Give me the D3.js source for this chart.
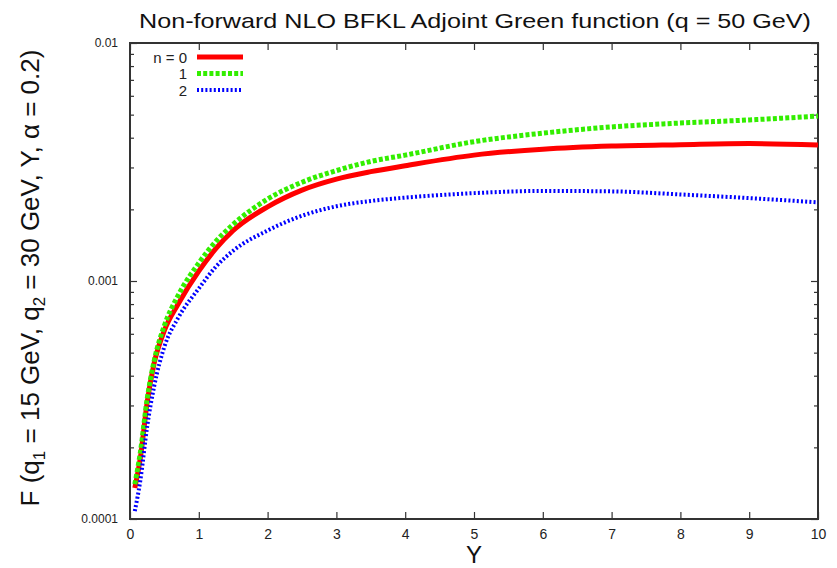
<!DOCTYPE html>
<html>
<head>
<meta charset="utf-8">
<script src="https://cdn.jsdelivr.net/npm/d3@7"></script>
<style>
  body { margin: 0; background: #fff; }
  text { font-family: "Liberation Sans", Arial, sans-serif; }
</style>
</head>
<body>
<script>
// rapidity values Y
var rapidity = [0.07, 0.15, 0.25, 0.35, 0.5, 0.7, 1.0, 1.25, 1.5, 2, 2.5, 3, 3.5, 4, 5, 6, 7, 8, 9, 10];
// conformal spin n = 0, 1, 2
var greenN0 = [0.000135, 0.00018, 0.00031, 0.00045, 0.00062, 0.00080, 0.00110, 0.00137, 0.00163, 0.00205,
               0.00241, 0.00268, 0.00288, 0.00305, 0.00338, 0.00358, 0.00369, 0.00374, 0.00378, 0.00373];
var greenN1 = [0.00014, 0.00019, 0.00032, 0.00046, 0.00065, 0.00087, 0.00119, 0.00147, 0.00173, 0.00221,
               0.00260, 0.00291, 0.00318, 0.00338, 0.00385, 0.00418, 0.00444, 0.00461, 0.00475, 0.00493];
var greenN2 = [0.000108, 0.000145, 0.000245, 0.00036, 0.00053, 0.00070, 0.00093, 0.00115, 0.00134, 0.00163,
               0.00188, 0.00206, 0.00217, 0.00224, 0.00234, 0.00239, 0.00238, 0.00231, 0.00223, 0.00214];
var seriesNames = ["n = 0", "1", "2"];
var xTicks = [0, 1, 2, 3, 4, 5, 6, 7, 8, 9, 10];
var yTicks = [0.0001, 0.001, 0.01];
var yTickLabels = ["0.0001", "0.001", "0.01"];

window.onload = function(){
    var w = 837, h = 568;
    var left = 130, right = 818, top = 43, bottom = 519;

    var svg = d3.select("body").append("svg")
      .attr("width", w)
      .attr("height", h);

    var x = d3.scaleLinear().domain([0, 10]).range([left, right]);
    var y = d3.scaleLog().domain([0.0001, 0.01]).range([bottom, top]);

    // minor log ticks
    var minor = [];
    [0.0001, 0.001].forEach(function(d){
        for (var k = 2; k <= 9; k++) minor.push(d * k);
    });

    // axes with inward ticks
    var axisBottom = d3.axisBottom(x).tickValues(xTicks).tickSizeInner(-7).tickSizeOuter(0).tickPadding(10);
    var axisTop = d3.axisTop(x).tickValues(xTicks).tickSizeInner(-7).tickSizeOuter(0).tickFormat("");
    var axisLeft = d3.axisLeft(y).tickValues(yTicks).tickSizeInner(-7).tickSizeOuter(0).tickPadding(12)
      .tickFormat(function(d, i){ return yTickLabels[i]; });
    var axisRight = d3.axisRight(y).tickValues(yTicks).tickSizeInner(-7).tickSizeOuter(0).tickFormat("");
    var minorLeft = d3.axisLeft(y).tickValues(minor).tickSizeInner(-4).tickSizeOuter(0).tickFormat("");
    var minorRight = d3.axisRight(y).tickValues(minor).tickSizeInner(-4).tickSizeOuter(0).tickFormat("");

    var gb = svg.append("g").attr("transform", "translate(0," + bottom + ")").call(axisBottom);
    svg.append("g").attr("transform", "translate(0," + top + ")").call(axisTop);
    var gl = svg.append("g").attr("transform", "translate(" + left + ",0)").call(axisLeft);
    svg.append("g").attr("transform", "translate(" + right + ",0)").call(axisRight);
    svg.append("g").attr("transform", "translate(" + left + ",0)").call(minorLeft);
    svg.append("g").attr("transform", "translate(" + right + ",0)").call(minorRight);

    svg.selectAll(".domain").attr("stroke", "none");
    svg.selectAll(".tick line").attr("stroke", "#333").attr("stroke-width", 1.2);
    gb.selectAll("text").attr("font-size", 14).attr("fill", "#222");
    gl.selectAll("text").attr("font-size", 12).attr("fill", "#222");

    // frame
    svg.append("rect")
      .attr("x", left).attr("y", top)
      .attr("width", right - left).attr("height", bottom - top)
      .attr("fill", "none").attr("stroke", "#333").attr("stroke-width", 2);

    var line = d3.line()
      .x(function(d){ return x(d[0]); })
      .y(function(d){ return y(d[1]); })
      .curve(d3.curveMonotoneX);

    var series = [
      { vals: greenN0, color: "#ff0000", width: 5, dash: null },
      { vals: greenN1, color: "#33ee00", width: 5, dash: "4,2.2" },
      { vals: greenN2, color: "#0000ff", width: 4, dash: "2,2.2" }
    ];

    series.forEach(function(s){
        svg.append("path")
          .datum(rapidity.map(function(r, i){ return [r, s.vals[i]]; }))
          .attr("d", line)
          .attr("fill", "none")
          .attr("stroke", s.color)
          .attr("stroke-width", s.width)
          .attr("stroke-dasharray", s.dash);
    });

    // legend
    var legendY = [57, 73.5, 90];
    series.forEach(function(s, i){
        svg.append("text")
          .attr("x", 187).attr("y", legendY[i] + 5.5)
          .attr("text-anchor", "end")
          .attr("font-size", 15)
          .attr("fill", "#222")
          .text(seriesNames[i]);
        svg.append("line")
          .attr("x1", 197).attr("x2", 243)
          .attr("y1", legendY[i]).attr("y2", legendY[i])
          .attr("stroke", s.color)
          .attr("stroke-width", s.width)
          .attr("stroke-dasharray", s.dash);
    });

    // title
    svg.append("text")
      .attr("x", 475).attr("y", 28)
      .attr("text-anchor", "middle")
      .attr("font-size", 21)
      .attr("fill", "#111")
      .attr("textLength", 672)
      .attr("lengthAdjust", "spacingAndGlyphs")
      .text("Non-forward NLO BFKL Adjoint Green function (q = 50 GeV)");

    // x label
    svg.append("text")
      .attr("x", 474).attr("y", 563)
      .attr("text-anchor", "middle")
      .attr("font-size", 24)
      .attr("fill", "#111")
      .text("Y");

    // y label with subscripts
    var yl = svg.append("text")
      .attr("transform", "translate(39,278) rotate(-90)")
      .attr("text-anchor", "middle")
      .attr("font-size", 26)
      .attr("fill", "#111");
    yl.append("tspan").text("F (q");
    yl.append("tspan").attr("font-size", 17).attr("dy", 6).text("1");
    yl.append("tspan").attr("dy", -6).text(" = 15 GeV, q");
    yl.append("tspan").attr("font-size", 17).attr("dy", 6).text("2");
    yl.append("tspan").attr("dy", -6).text(" = 30 GeV, Y, \u03b1 = 0.2)");
};
</script>
</body>
</html>
